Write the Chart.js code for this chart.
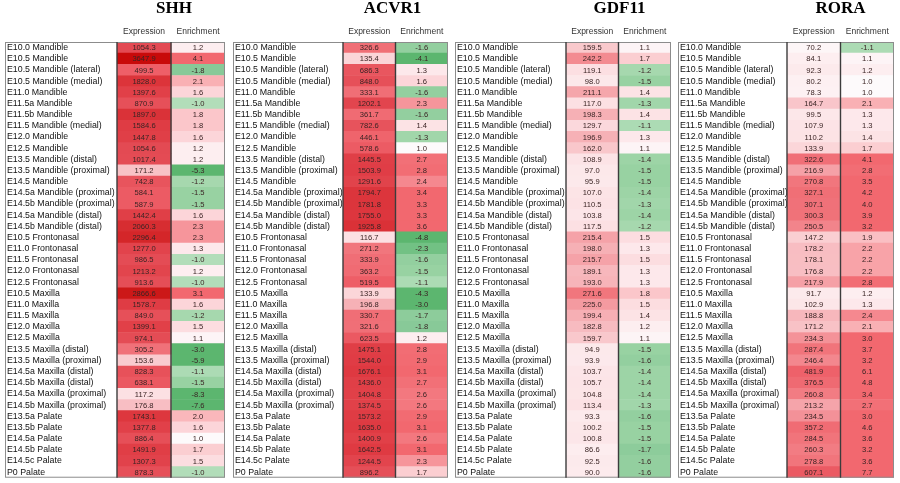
<!DOCTYPE html>
<html>
<head>
<meta charset="utf-8">
<script src="https://cdn.jsdelivr.net/npm/chart.js@4.4.0/dist/chart.umd.min.js"></script>
<style>
  body { margin: 0; background: #fff; width: 900px; height: 483px; position: relative; overflow: hidden; }
  .panel { position: absolute; top: 0; }
</style>
</head>
<body>
<canvas class="panel" id="shh" width="227" height="483" style="left:0"></canvas>
<canvas class="panel" id="acvr1" width="222" height="483" style="left:228px"></canvas>
<canvas class="panel" id="gdf11" width="223" height="483" style="left:450px"></canvas>
<canvas class="panel" id="rora" width="227" height="483" style="left:673px"></canvas>
<script>
// heatmap of expression / enrichment per tissue sample

const tissues = [
  'E10.0 Mandible', 'E10.5 Mandible', 'E10.5 Mandible (lateral)', 'E10.5 Mandible (medial)',
  'E11.0 Mandible', 'E11.5a Mandible', 'E11.5b Mandible', 'E11.5 Mandible (medial)',
  'E12.0 Mandible', 'E12.5 Mandible', 'E13.5 Mandible (distal)', 'E13.5 Mandible (proximal)',
  'E14.5 Mandible', 'E14.5a Mandible (proximal)', 'E14.5b Mandible (proximal)',
  'E14.5a Mandible (distal)', 'E14.5b Mandible (distal)',
  'E10.5 Frontonasal', 'E11.0 Frontonasal', 'E11.5 Frontonasal', 'E12.0 Frontonasal', 'E12.5 Frontonasal',
  'E10.5 Maxilla', 'E11.0 Maxilla', 'E11.5 Maxilla', 'E12.0 Maxilla', 'E12.5 Maxilla',
  'E13.5 Maxilla (distal)', 'E13.5 Maxilla (proximal)', 'E14.5a Maxilla (distal)', 'E14.5b Maxilla (distal)',
  'E14.5a Maxilla (proximal)', 'E14.5b Maxilla (proximal)',
  'E13.5a Palate', 'E13.5b Palate', 'E14.5a Palate', 'E14.5b Palate', 'E14.5c Palate', 'P0 Palate'
];
const columnHeaders = ['Expression', 'Enrichment'];

const shhExpression = [1054.3, 3647.9, 499.5, 1828.0, 1397.6, 870.9, 1897.0, 1584.6, 1447.8, 1054.6, 1017.4, 171.2,
  742.8, 584.1, 587.9, 1442.4, 2060.3, 2296.4, 1277.0, 986.5, 1213.2, 913.6, 2866.6, 1578.7, 849.0, 1399.1, 974.1,
  305.2, 153.6, 828.3, 638.1, 117.2, 176.8, 1743.1, 1377.8, 886.4, 1491.9, 1307.3, 878.3];
const shhEnrichment = [1.2, 4.1, -1.8, 2.1, 1.6, -1.0, 1.8, 1.8, 1.6, 1.2, 1.2, -5.3, -1.2, -1.5, -1.5, 1.6, 2.3,
  2.3, 1.3, -1.0, 1.2, -1.0, 3.1, 1.6, -1.2, 1.5, 1.1, -3.0, -5.9, -1.1, -1.5, -8.3, -7.6, 2.0, 1.6, 1.0, 1.7, 1.5, -1.0];

const acvr1Expression = [326.6, 135.4, 686.3, 848.0, 333.1, 1202.1, 361.7, 782.6, 446.1, 578.6, 1445.5, 1503.9,
  1291.6, 1794.7, 1781.8, 1755.0, 1925.8, 116.7, 271.2, 333.9, 363.2, 519.5, 133.9, 196.8, 330.7, 321.6, 623.5,
  1475.1, 1544.0, 1676.1, 1436.0, 1404.8, 1374.5, 1573.2, 1635.0, 1400.9, 1642.5, 1244.5, 896.2];
const acvr1Enrichment = [-1.6, -4.1, 1.3, 1.6, -1.6, 2.3, -1.6, 1.4, -1.3, 1.0, 2.7, 2.8, 2.4, 3.4, 3.3, 3.3, 3.6,
  -4.8, -2.3, -1.6, -1.5, -1.1, -4.3, -3.0, -1.7, -1.8, 1.2, 2.8, 2.9, 3.1, 2.7, 2.6, 2.6, 2.9, 3.1, 2.6, 3.1, 2.3, 1.7];

const gdf11Expression = [159.5, 242.2, 119.1, 98.0, 211.1, 117.0, 198.3, 129.7, 196.9, 162.0, 108.9, 97.0, 95.9,
  107.0, 110.5, 103.8, 117.5, 215.4, 198.0, 215.7, 189.1, 193.0, 271.6, 225.0, 199.4, 182.8, 159.7, 94.9, 93.9,
  103.7, 105.7, 104.8, 113.4, 93.3, 100.2, 100.8, 86.6, 92.5, 90.0];
const gdf11Enrichment = [1.1, 1.7, -1.2, -1.5, 1.4, -1.3, 1.4, -1.1, 1.3, 1.1, -1.4, -1.5, -1.5, -1.4, -1.3, -1.4,
  -1.2, 1.5, 1.3, 1.5, 1.3, 1.3, 1.8, 1.5, 1.4, 1.2, 1.1, -1.5, -1.6, -1.4, -1.4, -1.4, -1.3, -1.6, -1.5, -1.5,
  -1.7, -1.6, -1.6];

const roraExpression = [70.2, 84.1, 92.3, 80.2, 78.3, 164.7, 99.5, 107.9, 110.2, 133.9, 322.6, 216.9, 270.8, 327.1,
  307.1, 300.3, 250.5, 147.2, 178.2, 178.1, 176.8, 217.9, 91.7, 102.9, 188.8, 171.2, 234.3, 287.4, 246.4, 481.9,
  376.5, 260.8, 213.2, 234.5, 357.2, 284.5, 260.3, 278.8, 607.1];
const roraEnrichment = [-1.1, 1.1, 1.2, 1.0, 1.0, 2.1, 1.3, 1.3, 1.4, 1.7, 4.1, 2.8, 3.5, 4.2, 4.0, 3.9, 3.2, 1.9,
  2.2, 2.2, 2.2, 2.8, 1.2, 1.3, 2.4, 2.1, 3.0, 3.7, 3.2, 6.1, 4.8, 3.4, 2.7, 3.0, 4.6, 3.6, 3.2, 3.6, 7.7];

// colour ramps
const exprStops = [[0, '#fdf6f7'], [0.13, '#fce0e3'], [0.21, '#f9c8cc'], [0.25, '#f7b8bd'], [0.285, '#f5a2a8'],
  [0.34, '#f1767d'], [0.5, '#ee5f68'], [0.67, '#e44c55'], [0.8, '#df3a42'], [0.94, '#cc1818'], [1, '#c80a0a']];
const posStops = [[0, '#fdfafb'], [0.1, '#fdeef0'], [0.25, '#fcdde0'], [0.4, '#fbc6ca'], [0.55, '#f9b0b4'],
  [0.7, '#f5888f'], [0.85, '#f27077'], [1, '#f2686f']];
const negStops = [[0, '#b2ddb9'], [0.1, '#a6d8ae'], [0.25, '#98d2a2'], [0.4, '#88c998'], [0.7, '#6ebf80'], [1, '#5cb66f']];

function hexToRgb(h) {
  const n = parseInt(h.slice(1), 16);
  return [n >> 16 & 255, n >> 8 & 255, n & 255];
}

function ramp(stops, t) {
  t = Math.max(0, Math.min(1, t));
  for (let i = 1; i < stops.length; i++) {
    if (t <= stops[i][0]) {
      const a = hexToRgb(stops[i - 1][1]), b = hexToRgb(stops[i][1]);
      const f = (t - stops[i - 1][0]) / (stops[i][0] - stops[i - 1][0]);
      return 'rgb(' + a.map((v, k) => Math.round(v + (b[k] - v) * f)).join(',') + ')';
    }
  }
  return stops[stops.length - 1][1];
}

const exprColor = v => ramp(exprStops, (Math.log10(v) - Math.log10(70)) / (Math.log10(3650) - Math.log10(70)));
const enrColor = v => v >= 0 ? ramp(posStops, (v - 1) / 2) : ramp(negStops, (-v - 1) / 2);

const cellPlugin = {
  id: 'heatCells',
  afterDatasetsDraw(chart, args, opts) {
    const ctx = chart.ctx, area = chart.chartArea, x = chart.scales.x;
    ctx.save();
    ctx.font = '7.6px "Liberation Sans", Arial, sans-serif';
    ctx.textAlign = 'center';
    ctx.textBaseline = 'middle';
    ctx.fillStyle = '#3a2424';
    chart.data.datasets.forEach((ds, d) => {
      chart.getDatasetMeta(d).data.forEach((bar, i) => {
        ctx.fillText(ds.values[i].toFixed(1), (bar.x + bar.base) / 2, bar.y + 0.5);
      });
    });
    // outer frame + expression column edges
    const left = area.left - opts.labelWidth - 2;
    ctx.strokeStyle = '#8c8c8c';
    ctx.lineWidth = 1;
    ctx.strokeRect(left + 0.5, area.top + 0.5, area.right - left - 1, area.bottom - area.top - 1);
    ctx.strokeStyle = '#3c3c3c';
    ctx.lineWidth = 1.4;
    [0, 1].forEach(v => {
      const px = x.getPixelForValue(v);
      ctx.beginPath();
      ctx.moveTo(px, area.top);
      ctx.lineTo(px, area.bottom);
      ctx.stroke();
    });
    ctx.font = 'bold 17px "Liberation Serif", "Times New Roman", serif';
    ctx.fillStyle = '#000';
    ctx.fillText(opts.gene, (area.left + area.right) / 2 + opts.titleShift, 9);
    ctx.restore();
  }
};

function makePanel(id, gene, expr, enr, padLeft, labelWidth, padRight, titleShift) {
  new Chart(document.getElementById(id), {
    type: 'bar',
    data: {
      labels: tissues,
      datasets: [
        { label: columnHeaders[0], data: expr.map(() => [0, 1]), values: expr, backgroundColor: expr.map(exprColor) },
        { label: columnHeaders[1], data: enr.map(() => [1, 2]), values: enr, backgroundColor: enr.map(enrColor) }
      ]
    },
    options: {
      indexAxis: 'y',
      responsive: false,
      animation: false,
      layout: { padding: { left: padLeft, right: padRight, top: 0, bottom: 5 } },
      datasets: { bar: { barPercentage: 1, categoryPercentage: 1, borderWidth: 0, grouped: false } },
      plugins: {
        legend: { display: false },
        tooltip: { enabled: false },
        heatCells: { gene: gene, labelWidth: labelWidth, titleShift: titleShift }
      },
      scales: {
        x: {
          position: 'top', min: 0, max: 2,
          grid: { display: false }, border: { display: false },
          afterBuildTicks: s => { s.ticks = [{ value: 0.5 }, { value: 1.5 }]; },
          afterFit: s => { s.height = 42; },
          ticks: {
            autoSkip: false, maxRotation: 0, padding: -3, color: '#333',
            font: { family: '"Liberation Sans", Arial, sans-serif', size: 8.5 },
            callback: v => v < 1 ? columnHeaders[0] : columnHeaders[1]
          }
        },
        y: {
          grid: { display: false }, border: { display: false },
          afterFit: s => { s.width = labelWidth; },
          ticks: {
            autoSkip: false, crossAlign: 'far', padding: 0, color: '#111',
            font: { family: '"Liberation Sans", Arial, sans-serif', size: 8.8 }
          }
        }
      }
    },
    plugins: [cellPlugin]
  });
}

makePanel('shh', 'SHH', shhExpression, shhEnrichment, 7, 110, 2, 3);
makePanel('acvr1', 'ACVR1', acvr1Expression, acvr1Enrichment, 7, 108, 2, -3);
makePanel('gdf11', 'GDF11', gdf11Expression, gdf11Enrichment, 7, 109, 2, 1);
makePanel('rora', 'RORA', roraExpression, roraEnrichment, 7, 107, 6, 0);
</script>
</body>
</html>
